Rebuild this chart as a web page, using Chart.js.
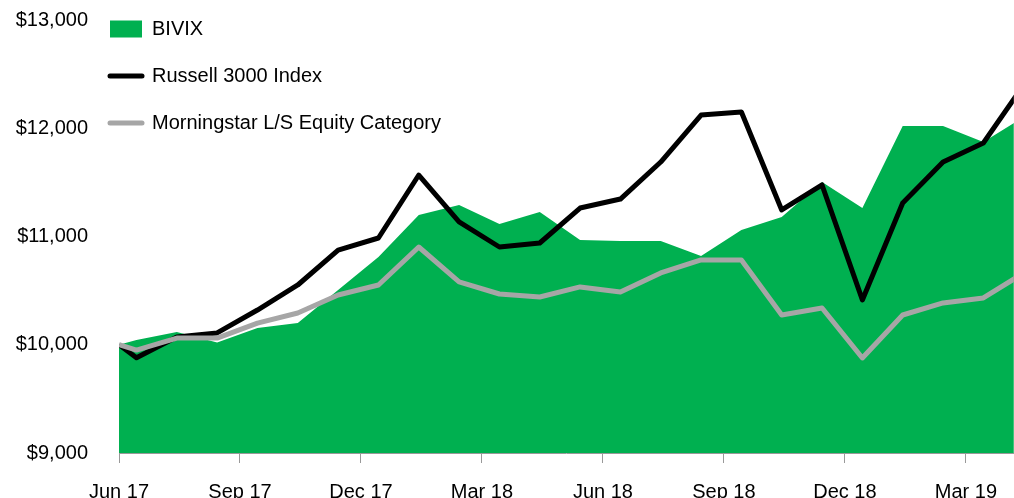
<!DOCTYPE html>
<html>
<head>
<meta charset="utf-8">
<script src="https://cdn.jsdelivr.net/npm/chart.js@4.4.1/dist/chart.umd.min.js"></script>
<style>
  html, body { margin: 0; padding: 0; background: #fff; }
  #wrap { width: 1014px; height: 498px; }
</style>
</head>
<body>
<div id="wrap"><canvas id="growthCanvas"></canvas></div>
<script>
// month-end values of a $10,000 investment
const dates = [
  "2017-06-17", "2017-06-30", "2017-07-31", "2017-08-31", "2017-09-30", "2017-10-31",
  "2017-11-30", "2017-12-31", "2018-01-31", "2018-02-28", "2018-03-31", "2018-04-30",
  "2018-05-31", "2018-06-30", "2018-07-31", "2018-08-31", "2018-09-30", "2018-10-31",
  "2018-11-30", "2018-12-31", "2019-01-31", "2019-02-28", "2019-03-31", "2019-04-30"
];
const bivix = [
  10000, 10044, 10118, 10020, 10155, 10200, 10506, 10811, 11199, 11291, 11116, 11226,
  10968, 10958, 10958, 10820, 11060, 11180, 11503, 11263, 12020, 12020, 11873, 12104
];
const russell3000 = [
  10000, 9880, 10072, 10109, 10321, 10552, 10875, 10986, 11568, 11134, 10903, 10940,
  11263, 11346, 11688, 12122, 12150, 11245, 11476, 10414, 11310, 11688, 11864, 12400
];
const morningstar = [
  10000, 9951, 10062, 10062, 10200, 10293, 10460, 10552, 10903, 10580, 10469, 10441,
  10534, 10487, 10663, 10783, 10783, 10275, 10339, 9878, 10275, 10386, 10432, 10663
];
const tickLabels = ["Jun 17", "Sep 17", "Dec 17", "Mar 18", "Jun 18", "Sep 18", "Dec 18", "Mar 19"];

// dates -> months since the first date
function toMonths(d) {
  const [y, m, day] = d.split("-").map(Number);
  const dim = new Date(y, m, 0).getDate();
  return (y - 2017) * 12 + (m - 1) + day / dim;
}
const start = toMonths(dates[0]);
const xs = dates.map((d) => toMonths(d) - start);
const pts = (vals) => vals.map((v, i) => ({ x: xs[i], y: v }));

Chart.defaults.font.family = "'Liberation Sans', Arial, sans-serif";
Chart.defaults.color = "#000";

const data = {
  datasets: [
    {
      label: "BIVIX",
      data: pts(bivix),
      backgroundColor: "#00b050",
      borderWidth: 0,
      fill: "start",
      pointRadius: 0,
      pointStyle: "rect",
      pointBackgroundColor: "#00b050",
      pointBorderWidth: 0,
      order: 3,
    },
    {
      label: "Russell 3000 Index",
      data: pts(russell3000),
      borderColor: "#000000",
      backgroundColor: "#000000",
      borderWidth: 5,
      borderJoinStyle: "round",
      fill: false,
      pointRadius: 0,
      pointStyle: "line",
      pointBorderColor: "#000000",
      pointBorderWidth: 5,
      order: 2,
    },
    {
      label: "Morningstar L/S Equity Category",
      data: pts(morningstar),
      borderColor: "#a6a6a6",
      backgroundColor: "#a6a6a6",
      borderWidth: 5,
      borderJoinStyle: "round",
      fill: false,
      pointRadius: 0,
      pointStyle: "line",
      pointBorderColor: "#a6a6a6",
      pointBorderWidth: 5,
      order: 1,
    },
  ],
};

// put the in-plot legend at the top left corner
const legendShift = {
  id: "legendShift",
  afterLayout(chart) {
    chart.legend.left = chart.chartArea.left - 36;
    chart.legend.top = chart.chartArea.top - 28;
  },
};

const config = {
  type: "line",
  data: data,
  options: {
    responsive: true,
    maintainAspectRatio: false,
    animation: false,
    layout: { padding: { top: 20, right: 0, bottom: 0, left: 0 } },
    scales: {
      x: {
        type: "linear",
        min: 0,
        max: 22.19,
        z: 1,
        afterFit: (s) => { s.height = 45; },
        ticks: {
          stepSize: 3,
          includeBounds: false,
          padding: 17,
          font: { size: 20 },
          color: "#000",
          callback: (v) => tickLabels[Math.round(v / 3)],
        },
        grid: { drawOnChartArea: false, tickLength: 10, color: "#999" },
        border: { color: "#999", width: 1 },
      },
      y: {
        min: 9000,
        max: 13000,
        afterFit: (s) => { s.width = 119; },
        ticks: {
          stepSize: 1000,
          padding: 0,
          font: { size: 20 },
          color: "#000",
          callback: (v) => "$" + v.toLocaleString("en-US"),
        },
        grid: { display: false, drawTicks: true, tickLength: 31 },
        border: { display: false },
      },
    },
    plugins: {
      tooltip: { enabled: false },
      legend: {
        position: "chartArea",
        align: "start",
        labels: {
          usePointStyle: true,
          pointStyleWidth: 32,
          boxHeight: 17,
          padding: 27,
          color: "#000",
          font: { size: 20 },
          sort: (a, b) => a.datasetIndex - b.datasetIndex,
          generateLabels: (chart) =>
            Chart.defaults.plugins.legend.labels.generateLabels(chart).map((it) => {
              it.lineCap = "round";
              return it;
            }),
        },
      },
    },
  },
  plugins: [legendShift],
};

const canvas = document.getElementById("growthCanvas");
if (canvas) {
  new Chart(canvas.getContext("2d"), config);
} else {
  console.error("canvas not found");
}
</script>
</body>
</html>
